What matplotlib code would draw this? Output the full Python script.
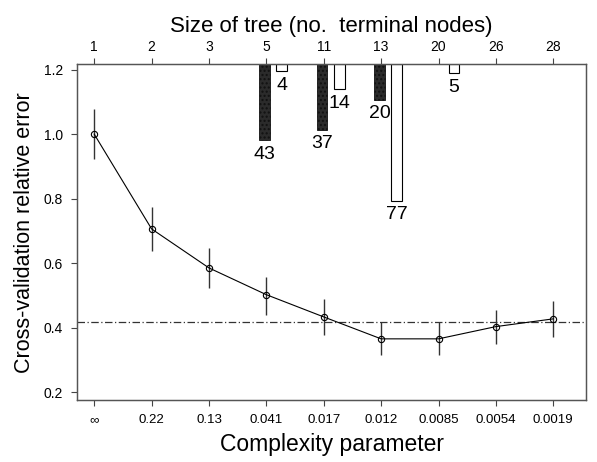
import numpy as np
import matplotlib.pyplot as plt

plt.rcParams['font.family'] = ['Liberation Sans', 'DejaVu Sans']

# complexity parameter (bottom axis) and tree sizes (top axis)
cp_labels = ['\u221e', '0.22', '0.13', '0.041', '0.017', '0.012', '0.0085', '0.0054', '0.0019']
size_labels = ['1', '2', '3', '5', '11', '13', '20', '26', '28']

# cross-validation relative error with +/- 1 SE
xerror = [1.0, 0.706, 0.585, 0.502, 0.433, 0.365, 0.365, 0.403, 0.427]
err_lo = [0.922, 0.639, 0.523, 0.440, 0.376, 0.314, 0.314, 0.350, 0.371]
err_hi = [1.078, 0.774, 0.647, 0.557, 0.489, 0.418, 0.418, 0.456, 0.482]
min_line = 0.417

# counts hanging from the top axis
dark_pos = [4, 5, 6]
dark_counts = [43, 37, 20]
light_pos = [4, 5, 6, 7]
light_counts = [4, 14, 77, 5]

pos = np.arange(1, len(cp_labels) + 1)

fig = plt.figure(figsize=(5.97, 4.62), dpi=100)
ax = fig.add_axes([0.129, 0.134, 0.853, 0.727])
ytop = 1.217
ax.set_xlim(0.7, 9.575)
ax.set_ylim(0.175, ytop)

# error bars and curve
ax.vlines(pos, err_lo, err_hi, color='#333333', lw=1.0)
ax.axhline(min_line, color='#333333', lw=0.9, ls=(0, (6, 2, 1, 2)))
ax.plot(pos, xerror, color='black', lw=0.8, marker='o', ms=4.5,
        mfc='none', mec='black', mew=0.8)

# bars hanging from the top
k = 0.0055
w = 0.19
for p, c in zip(dark_pos, dark_counts):
    h = c * k
    ax.bar(p - 0.03, h, width=w, bottom=ytop - h, color='#2b2b2b',
           edgecolor='#111111', lw=0.6, hatch='....')
    ax.annotate(str(c), (p - 0.03, ytop - h), xytext=(0, -4),
                textcoords='offset points', ha='center', va='top', fontsize=14)
for p, c in zip(light_pos, light_counts):
    h = c * k
    ax.bar(p + 0.27, h, width=w, bottom=ytop - h, color='white',
           edgecolor='black', lw=0.8)
    ax.annotate(str(c), (p + 0.27, ytop - h), xytext=(0, -4),
                textcoords='offset points', ha='center', va='top', fontsize=14)

ax.set_xticks(pos)
ax.set_xticklabels(cp_labels, fontsize=9.5)
ax.set_yticks([0.2, 0.4, 0.6, 0.8, 1.0, 1.2])
ax.set_yticklabels(['0.2', '0.4', '0.6', '0.8', '1.0', '1.2'], fontsize=10)
ax.tick_params(direction='out', length=4, width=0.8, color='#444444', pad=6)
ax.set_xlabel('Complexity parameter', fontsize=16.5, labelpad=5)
ax.set_ylabel('Cross-validation relative error', fontsize=15.5, labelpad=6)

top = ax.twiny()
top.set_xlim(ax.get_xlim())
top.set_xticks(pos)
top.set_xticklabels(size_labels, fontsize=10)
top.tick_params(direction='out', length=4, width=0.8, color='#444444', pad=3)
top.set_xlabel('Size of tree (no.  terminal nodes)', fontsize=16, labelpad=6)

for a in (ax, top):
    for s in a.spines.values():
        s.set_color('#555555')
        s.set_linewidth(0.9)

fig.savefig('out.png', dpi=100)
